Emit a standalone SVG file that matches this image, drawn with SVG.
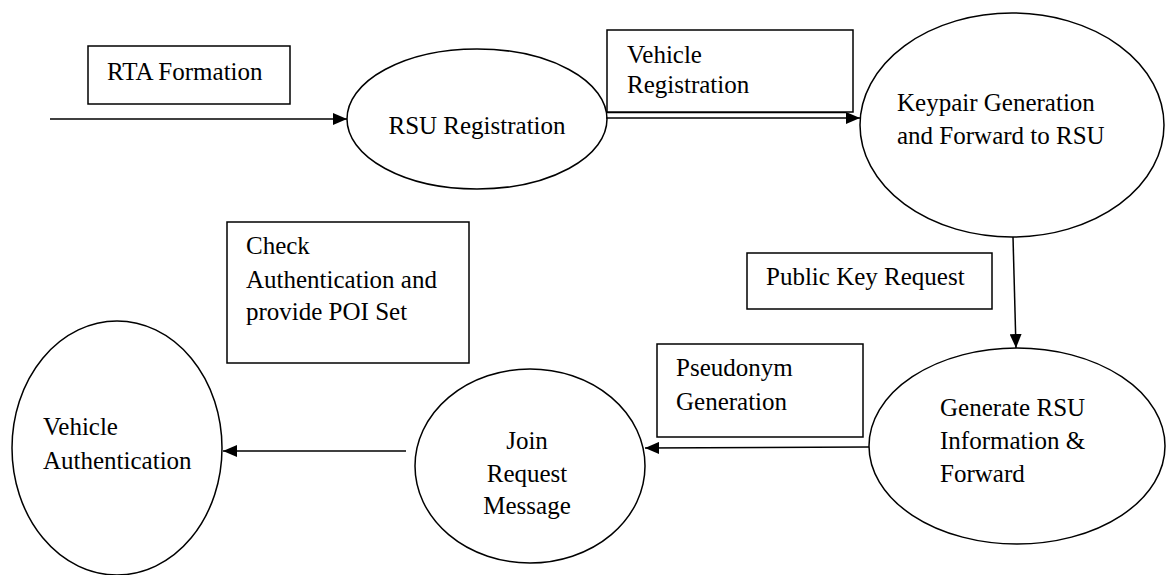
<svg xmlns="http://www.w3.org/2000/svg" width="1166" height="575" viewBox="0 0 1166 575">
<style>
.shape{fill:none;stroke:#000;stroke-width:1.5}
.box{fill:#fff;stroke:#000;stroke-width:1.5}
.edge{fill:none;stroke:#000;stroke-width:1.5}
.t{font-family:'Liberation Serif','Times New Roman',Times,serif;font-size:25px;fill:#000}
</style>
<defs>
<marker id="arr" markerWidth="14" markerHeight="12" refX="14" refY="6" orient="auto" markerUnits="userSpaceOnUse">
<path d="M0,0 L14,6 L0,12 Z" fill="#000"/>
</marker>
</defs>
<rect width="1166" height="575" fill="#fff"/>
<g id="connectors">
<line class="edge" x1="50" y1="119" x2="347" y2="119" marker-end="url(#arr)"/>
<line class="edge" x1="607" y1="112.5" x2="846" y2="112.5"/>
<line class="edge" x1="606" y1="118" x2="860" y2="118" marker-end="url(#arr)"/>
<line class="edge" x1="1013" y1="237" x2="1016" y2="348" marker-end="url(#arr)"/>
<line class="edge" x1="869" y1="447" x2="645" y2="448" marker-end="url(#arr)"/>
<line class="edge" x1="406" y1="451" x2="223" y2="451" marker-end="url(#arr)"/>
</g>
<g class="t">
<g id="rta-formation">
<rect class="box" x="88" y="46" width="202" height="58"/>
<text x="107" y="80">RTA Formation</text>
</g>
<g id="rsu-registration">
<ellipse class="shape" cx="477" cy="119" rx="130" ry="70"/>
<text x="477" y="134" text-anchor="middle">RSU Registration</text>
</g>
<g id="vehicle-registration">
<rect class="box" x="607" y="30" width="246" height="82"/>
<text x="627" y="63">Vehicle</text>
<text x="627" y="93">Registration</text>
</g>
<g id="keypair-generation">
<ellipse class="shape" cx="1012" cy="125" rx="152" ry="112"/>
<text x="897" y="111">Keypair Generation</text>
<text x="897" y="144">and Forward to RSU</text>
</g>
<g id="public-key-request">
<rect class="box" x="747" y="253" width="245" height="56"/>
<text x="766" y="285">Public Key Request</text>
</g>
<g id="generate-rsu-information">
<ellipse class="shape" cx="1017" cy="446" rx="148" ry="98"/>
<text x="940" y="416">Generate RSU</text>
<text x="940" y="449">Information &amp;</text>
<text x="940" y="482">Forward</text>
</g>
<g id="pseudonym-generation">
<rect class="box" x="657" y="344" width="206" height="93"/>
<text x="676" y="376">Pseudonym</text>
<text x="676" y="410">Generation</text>
</g>
<g id="join-request-message">
<ellipse class="shape" cx="530" cy="466" rx="115" ry="97"/>
<text x="527" y="449" text-anchor="middle">Join</text>
<text x="527" y="482" text-anchor="middle">Request</text>
<text x="527" y="514" text-anchor="middle">Message</text>
</g>
<g id="check-authentication">
<rect class="box" x="227" y="222" width="242" height="141"/>
<text x="246" y="254">Check</text>
<text x="246" y="288">Authentication and</text>
<text x="246" y="320">provide POI Set</text>
</g>
<g id="vehicle-authentication">
<ellipse class="shape" cx="117" cy="448" rx="105" ry="127"/>
<text x="43" y="435">Vehicle</text>
<text x="43" y="469">Authentication</text>
</g>
</g>
</svg>
